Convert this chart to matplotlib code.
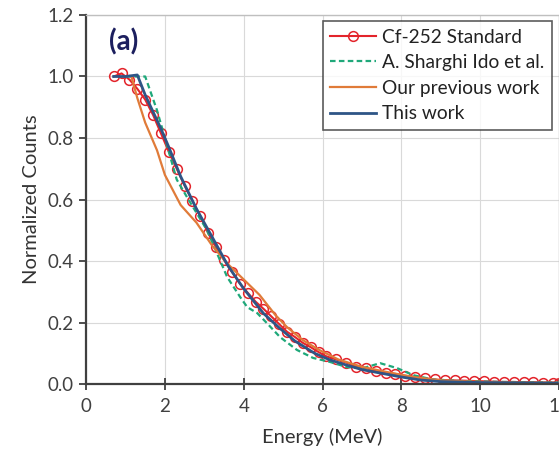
import matplotlib.pyplot as plt

# Cf-252 standard spectrum (open circles)
cf_energy = [0.7, 0.9, 1.1, 1.3, 1.5, 1.7, 1.9, 2.1, 2.3, 2.5, 2.7, 2.9, 3.1, 3.3,
             3.5, 3.7, 3.9, 4.1, 4.3, 4.5, 4.7, 4.9, 5.1, 5.3, 5.5, 5.7, 5.9, 6.1,
             6.35, 6.6, 6.85, 7.1, 7.35, 7.6, 7.85, 8.1, 8.35, 8.6, 8.85, 9.1, 9.35,
             9.6, 9.85, 10.1, 10.35, 10.6, 10.85, 11.1, 11.35, 11.6, 11.85, 12.0]
cf_counts = [1.0, 1.01, 0.99, 0.96, 0.925, 0.875, 0.815, 0.755, 0.70, 0.645, 0.595,
             0.545, 0.49, 0.445, 0.403, 0.365, 0.327, 0.297, 0.268, 0.245, 0.22,
             0.195, 0.17, 0.153, 0.134, 0.12, 0.104, 0.09, 0.08, 0.07, 0.057, 0.052,
             0.043, 0.037, 0.033, 0.027, 0.024, 0.019, 0.015, 0.013, 0.012, 0.011,
             0.01, 0.009, 0.008, 0.007, 0.007, 0.006, 0.006, 0.005, 0.005, 0.005]

# A. Sharghi Ido et al.
sh_energy = [1.0, 1.3, 1.5, 1.8, 2.3, 2.56, 3.07, 3.32, 3.58, 3.91, 4.09, 4.34, 4.59,
             4.92, 5.35, 5.76, 6.19, 6.62, 7.03, 7.46, 7.89, 8.3, 8.8, 9.5, 10.5, 12.0]
sh_counts = [1.0, 1.0, 1.0, 0.89, 0.665, 0.608, 0.50, 0.426, 0.348, 0.283, 0.25,
             0.231, 0.198, 0.153, 0.111, 0.085, 0.072, 0.055, 0.052, 0.068, 0.052,
             0.029, 0.015, 0.01, 0.007, 0.005]

# Our previous work
pw_energy = [1.15, 1.3, 1.5, 1.8, 2.0, 2.4, 2.8, 3.2, 3.6, 4.0, 4.4, 4.8, 5.1, 5.5,
             5.9, 6.4, 7.0, 7.6, 8.3, 9.0, 10.0, 11.0, 12.0]
pw_counts = [1.0, 0.93, 0.85, 0.76, 0.68, 0.582, 0.525, 0.45, 0.39, 0.34, 0.29, 0.225,
             0.185, 0.143, 0.112, 0.08, 0.056, 0.04, 0.023, 0.012, 0.007, 0.005, 0.004]

# This work
tw_energy = [0.7, 1.0, 1.3, 1.5, 1.9, 2.1, 2.4, 2.8, 3.2, 3.6, 4.0, 4.5, 4.9, 5.3,
             5.8, 6.2, 6.6, 7.0, 7.5, 8.0, 8.5, 9.0, 10.0, 11.0, 12.0]
tw_counts = [1.0, 1.0, 1.005, 0.94, 0.83, 0.77, 0.675, 0.57, 0.478, 0.385, 0.31, 0.23,
             0.183, 0.14, 0.1, 0.078, 0.062, 0.047, 0.035, 0.023, 0.013, 0.008, 0.005,
             0.004, 0.003]

plt.rcParams['font.family'] = ['Lato', 'DejaVu Sans']

fig = plt.figure(figsize=(5.59, 4.54), dpi=100)
ax = fig.add_axes([0.154, 0.154, 0.846, 0.813])

ax.plot(cf_energy, cf_counts, color='#e3242b', lw=1.5, marker='o', markersize=7,
        markerfacecolor='none', markeredgecolor='#e3242b', markeredgewidth=1.1,
        label='Cf-252 Standard')
ax.plot(sh_energy, sh_counts, color='#1fa87a', lw=1.6, ls=(0, (2.5, 1.5)),
        label='A. Sharghi Ido et al.')
ax.plot(pw_energy, pw_counts, color='#e07b39', lw=1.6, label='Our previous work')
ax.plot(tw_energy, tw_counts, color='#2e5586', lw=2.0, label='This work')

ax.set_xlim(0, 12)
ax.set_ylim(0, 1.2)
ax.set_xticks([0, 2, 4, 6, 8, 10, 12])
ax.set_yticks([0.0, 0.2, 0.4, 0.6, 0.8, 1.0, 1.2])
ax.set_yticklabels(['0.0', '0.2', '0.4', '0.6', '0.8', '1.0', '1.2'])
ax.grid(True, color='#d9d9d9', lw=0.8)
ax.set_axisbelow(True)

ax.tick_params(axis='x', direction='inout', length=8, width=1.3, colors='#404040',
               labelsize=13.5, pad=6)
ax.tick_params(axis='y', direction='out', length=5, width=1.3, colors='#404040',
               labelsize=13.5, pad=4)
for s in ['left', 'bottom']:
    ax.spines[s].set_color('#404040')
    ax.spines[s].set_linewidth(1.6)
for s in ['top', 'right']:
    ax.spines[s].set_color('#bfbfbf')
    ax.spines[s].set_linewidth(1.0)

ax.set_xlabel('Energy (MeV)', fontsize=14.5, color='#333333', labelpad=9)
ax.set_ylabel('Normalized Counts', fontsize=14.5, color='#333333', labelpad=5)

ax.text(0.08, 0.927, '(a)', transform=ax.transAxes, fontsize=20, color='#1c1f5e',
        fontweight='bold', ha='center', va='center')

leg = ax.legend(loc='upper right', bbox_to_anchor=(0.985, 0.984), borderaxespad=0,
                fontsize=13.8, frameon=True, fancybox=False, edgecolor='#333333',
                handlelength=2.4, handletextpad=0.3, labelspacing=0.45,
                borderpad=0.4)
leg.get_frame().set_linewidth(1.2)
for t in leg.get_texts():
    t.set_color('#222222')

fig.savefig('out.png', dpi=100)
